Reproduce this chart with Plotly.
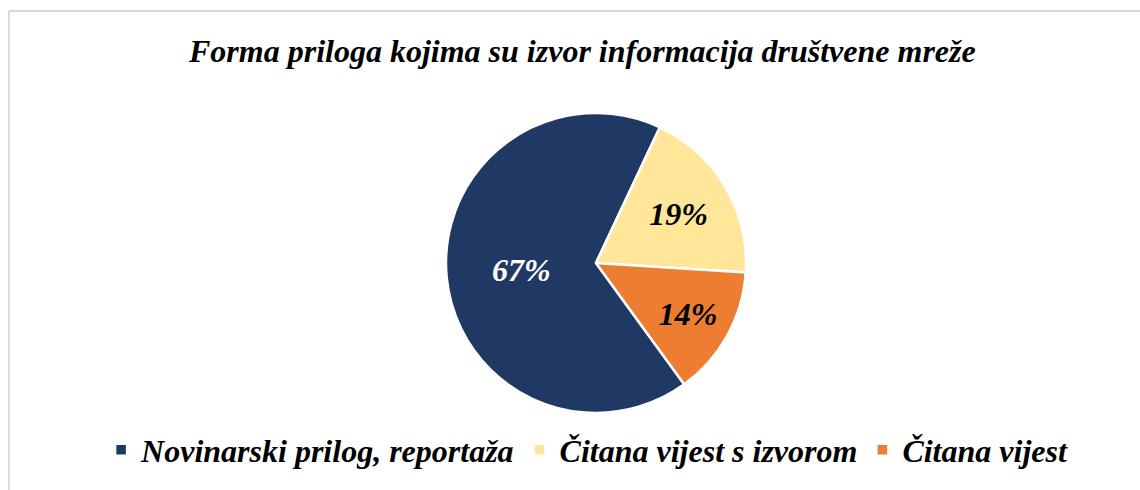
import plotly.graph_objects as go

# Slice data
categories = ["Novinarski prilog, reportaža", "Čitana vijest s izvorom", "Čitana vijest"]
shares = [67, 19, 14]
slice_colors = ["#203864", "#FFE699", "#ED7D31"]
label_colors = ["#FFFFFF", "#000000", "#000000"]

W, H = 1140, 490
SERIF = "Liberation Serif, Times New Roman, serif"

fig = go.Figure(
    go.Pie(
        labels=categories,
        values=shares,
        sort=False,
        direction="clockwise",
        rotation=144,
        marker=dict(colors=slice_colors, line=dict(color="#FFFFFF", width=2.5)),
        texttemplate="%{value}%",
        textposition="inside",
        insidetextorientation="horizontal",
        insidetextfont=dict(family=SERIF, size=32, color=label_colors,
                            weight="bold", style="italic"),
        hoverinfo="skip",
        domain=dict(x=[446 / W, 746 / W], y=[1 - 413 / H, 1 - 113 / H]),
    )
)

fig.update_layout(
    width=W,
    height=H,
    margin=dict(l=0, r=0, t=0, b=0),
    paper_bgcolor="#FFFFFF",
    plot_bgcolor="#FFFFFF",
    showlegend=True,
    legend=dict(
        orientation="h",
        x=0.515, xanchor="center",
        y=1 - 450 / H, yanchor="middle",
        font=dict(family=SERIF, size=32, color="#000000", weight="bold", style="italic"),
        itemwidth=30,
        tracegroupgap=0,
    ),
    annotations=[
        dict(
            text="Forma priloga kojima su izvor informacija društvene mreže",
            x=582 / W, y=1 - 51 / H, xref="paper", yref="paper",
            xanchor="center", yanchor="middle", showarrow=False,
            font=dict(family=SERIF, size=32, color="#000000", weight="bold", style="italic"),
        )
    ],
    shapes=[
        # outer chart frame (open to the right and bottom)
        dict(type="line", xref="paper", yref="paper",
             x0=9 / W, x1=1.01, y0=1 - 11 / H, y1=1 - 11 / H,
             line=dict(color="#D9D9D9", width=2)),
        dict(type="line", xref="paper", yref="paper",
             x0=9 / W, x1=9 / W, y0=1 - 11 / H, y1=-0.01,
             line=dict(color="#D9D9D9", width=2)),
    ],
)

fig.write_html("out.html")
